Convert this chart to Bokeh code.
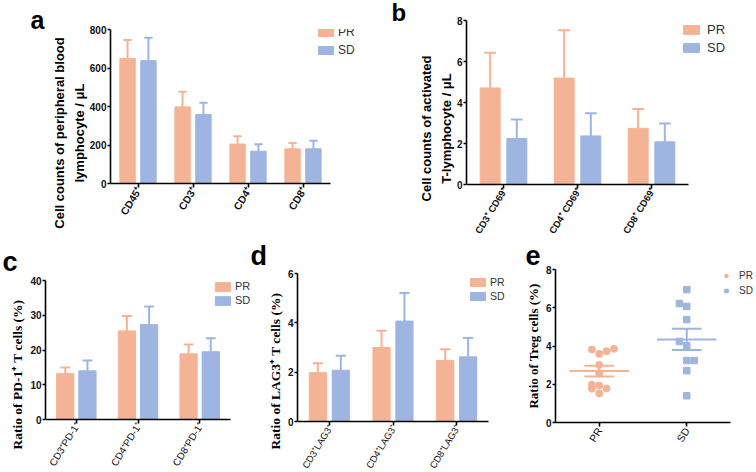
import math
import numpy as np
from bokeh.plotting import figure
from bokeh.layouts import column, row
from bokeh.models import Range1d, FixedTicker, Legend, LegendItem, ColumnDataSource
from bokeh.core.properties import value
from bokeh.embed import file_html
from bokeh.resources import INLINE

PR_COLOR = "#F5B395"
SD_COLOR = "#9DB5E0"
SANS = "Liberation Sans"
SERIF = "Liberation Serif"
LABEL_ANGLE = 1.02  # radians, slant of the category names
E_TICK_ORIENT = 45

# ---- panel a: lymphocyte subsets (cells / uL), mean and SD ----
a_cats = ["CD45⁺", "CD3⁺", "CD4⁺", "CD8⁺"]
a_pr_mean = [650, 398, 205, 180]
a_pr_err = [95, 78, 41, 31]
a_sd_mean = [638, 358, 168, 180]
a_sd_err = [119, 61, 36, 42]
a_yticks = [0, 200, 400, 600, 800]

# ---- panel b: activated T cells (cells / uL) ----
b_cats = ["CD3⁺ CD69⁺", "CD4⁺ CD69⁺", "CD8⁺ CD69⁺"]
b_pr_mean = [4.71, 5.19, 2.74]
b_pr_err = [1.72, 2.34, 0.94]
b_sd_mean = [2.24, 2.37, 2.08]
b_sd_err = [0.93, 1.10, 0.89]
b_yticks = [0, 2, 4, 6, 8]

# ---- panel c: PD-1+ T cells (%) ----
c_cats = ["CD3⁺PD-1⁺", "CD4⁺PD-1⁺", "CD8⁺PD-1⁺"]
c_pr_mean = [13.2, 25.5, 18.9]
c_pr_err = [1.8, 4.3, 2.7]
c_sd_mean = [14.0, 27.3, 19.5]
c_sd_err = [3.0, 5.2, 3.9]
c_yticks = [0, 10, 20, 30, 40]

# ---- panel d: LAG3+ T cells (%) ----
d_cats = ["CD3⁺LAG3⁺", "CD4⁺LAG3⁺", "CD8⁺LAG3⁺"]
d_pr_mean = [1.98, 3.00, 2.47]
d_pr_err = [0.38, 0.68, 0.46]
d_sd_mean = [2.08, 4.07, 2.62]
d_sd_err = [0.59, 1.14, 0.77]
d_yticks = [0, 2, 4, 6]

# ---- panel e: Treg cells (%) per patient; lane = scatter column within group ----
e_groups = ["PR", "SD"]
e_pr_values = [3.82, 3.59, 3.73, 3.85, 3.01, 2.57, 1.98, 1.77, 1.93, 1.78, 1.52]
e_pr_lanes = [-1, 0, 1, 2, 0, 0, -1, -1, 0, 1, 0]
e_sd_values = [6.95, 6.22, 6.07, 5.38, 4.24, 4.01, 3.24, 3.24, 2.71, 1.40]
e_sd_lanes = [0, -1, 0, 0, -1, 0, 0, 1, 0, 0]
e_yticks = [0, 2, 4, 6, 8]


def style_axes(p, yticks, ylabel, ylabel_font, ylabel_size,
               line_height=1.2, label_standoff=2):
    p.xgrid.visible = False
    p.ygrid.visible = False
    p.outline_line_color = None
    p.background_fill_color = "white"
    p.border_fill_color = "white"
    for ax in (p.xaxis[0], p.yaxis[0]):
        ax.axis_line_width = 1.6
        ax.axis_line_color = "black"
        ax.major_tick_line_width = 1.6
        ax.major_tick_line_color = "black"
        ax.major_tick_in = 0
        ax.major_tick_out = 4
        ax.minor_tick_line_color = None
        ax.major_label_text_font = SANS
        ax.major_label_text_color = "#111111"
        ax.major_label_standoff = 2
    ya = p.yaxis[0]
    ya.major_tick_out = 3
    ya.major_label_standoff = 1
    ya.ticker = FixedTicker(ticks=yticks)
    ya.major_label_text_font_size = "10px"
    ya.major_label_text_font_style = "bold"
    ya.axis_label = ylabel
    ya.axis_label_text_font = ylabel_font
    ya.axis_label_text_font_size = ylabel_size
    ya.axis_label_text_font_style = "bold"
    ya.axis_label_text_color = "black"
    ya.axis_label_standoff = label_standoff
    ya.axis_label_text_line_height = line_height


def panel_letter(p, letter, offset, standoff, size, valign, line_height=1.0):
    t = p.title
    t.text = letter
    t.align = "left"
    t.vertical_align = valign
    t.offset = offset
    t.standoff = standoff
    t.text_font = SANS
    t.text_font_size = size
    t.text_font_style = "bold"
    t.text_color = "black"
    t.text_line_height = line_height


def bar_panel(cats, pr_m, pr_e, sd_m, sd_e, ymax, width, height, left, top, axis_y,
              axis_px, offset, bar_w, cap_w, label_style, label_size):
    """Grouped bars with upward SD whiskers; the frame runs below y=0 so the
    slanted category names sit inside it under the x axis."""
    n = len(cats)
    unit = axis_px / n
    x_end = n + 0.5 + (width - left - axis_px) / unit
    bb = 4
    frame_bottom = height - bb
    f = (frame_bottom - axis_y) / (frame_bottom - top)
    y_lo = -f * ymax / (1 - f)
    p = figure(x_range=Range1d(0.5, x_end), y_range=Range1d(y_lo, ymax),
               width=width, height=height, output_backend="svg",
               toolbar_location=None, frame_align=False,
               min_border_left=left, min_border_right=0,
               min_border_top=top, min_border_bottom=bb)
    centers = list(range(1, n + 1))
    rends = []
    for means, errs, off, color in ((pr_m, pr_e, -offset, PR_COLOR),
                                    (sd_m, sd_e, offset, SD_COLOR)):
        xs = [c + off for c in centers]
        his = [m + e for m, e in zip(means, errs)]
        src = ColumnDataSource(dict(x=xs, top=means, hi=his,
                                    cl=[x - cap_w / 2 for x in xs],
                                    cr=[x + cap_w / 2 for x in xs]))
        r = p.vbar(x="x", top="top", bottom=0, width=bar_w, source=src,
                   fill_color=color, line_color=color)
        p.segment(x0="x", y0="top", x1="x", y1="hi", source=src,
                  line_color=color, line_width=2)
        p.segment(x0="cl", y0="hi", x1="cr", y1="hi", source=src,
                  line_color=color, line_width=2)
        rends.append(r)
    p.text(x=centers, y=[0] * n, text=cats, angle=LABEL_ANGLE, angle_units="rad",
           text_align="right", text_baseline="middle", x_offset=1, y_offset=4,
           text_font=value(SANS), text_font_size=label_size,
           text_font_style=label_style, text_color="#111111")
    xa = p.xaxis[0]
    xa.fixed_location = 0
    xa.bounds = (0.5, n + 0.5)
    xa.ticker = FixedTicker(ticks=centers)
    xa.major_label_overrides = {c: "" for c in centers}
    xa.major_label_text_font_size = "0px"
    xa.major_label_standoff = 0
    p.yaxis[0].bounds = (0, ymax)
    return p, rends, frame_bottom


def add_legend(p, items, frame_left, frame_bottom, x_px, bottom_px, glyph_w, glyph_h,
               spacing, standoff, size):
    leg = Legend(items=[LegendItem(label=lab, renderers=[r]) for lab, r in items],
                 location=(x_px - frame_left, frame_bottom - bottom_px),
                 orientation="vertical", padding=0, margin=0,
                 spacing=spacing, glyph_width=glyph_w, glyph_height=glyph_h,
                 label_height=glyph_h, label_standoff=standoff,
                 label_text_font=SANS, label_text_font_size=size,
                 label_text_color="#333333", border_line_color=None,
                 background_fill_alpha=0)
    p.add_layout(leg)


# ---- a ----
pa, ra, fa = bar_panel(a_cats, a_pr_mean, a_pr_err, a_sd_mean, a_sd_err, 800,
                       376, 240, 110, 29, 183, 220, 0.19, 0.28, 0.15, "bold", "10.5px")
style_axes(pa, a_yticks, "Cell counts of peripheral blood\nlymphocyte / μL",
           SANS, "13px", line_height=1.3, label_standoff=0)
add_legend(pa, [("PR", ra[0]), ("SD", ra[1])], 110, fa, 316, 57, 19, 10, 4, 3, "12px")
panel_letter(pa, "a", -80, -13, "25px", "top")

# ---- b ----
pb, rb, fb = bar_panel(b_cats, b_pr_mean, b_pr_err, b_sd_mean, b_sd_err, 8,
                       380, 240, 90, 20, 184, 222, 0.18, 0.27, 0.16, "bold", "9.5px")
style_axes(pb, b_yticks, "Cell counts of activated\nT-lymphocyte / μL",
           SANS, "13px", line_height=1.3, label_standoff=0)
add_legend(pb, [("PR", rb[0]), ("SD", rb[1])], 90, fb, 305, 55, 20, 11, 3, 6, "13px")
panel_letter(pb, "b", -75, -13, "24px", "middle")

# ---- c ----
pc, rc, fc = bar_panel(c_cats, c_pr_mean, c_pr_err, c_sd_mean, c_sd_err, 40,
                       250, 232, 45, 40, 179, 185, 0.18, 0.28, 0.16, "normal", "10px")
style_axes(pc, c_yticks, "Ratio of PD-1⁺ T cells (%)", SERIF, "13.5px")
add_legend(pc, [("PR", rc[0]), ("SD", rc[1])], 45, fc, 213, 66, 19, 11, 2, 3, "11px")
panel_letter(pc, "c", -43, 8, "27px", "bottom", line_height=0.75)

# ---- d ----
pd, rd, fd = bar_panel(d_cats, d_pr_mean, d_pr_err, d_sd_mean, d_sd_err, 6,
                       256, 232, 47, 33, 181, 191, 0.18, 0.27, 0.16, "normal", "9.5px")
style_axes(pd, d_yticks, "Ratio of LAG3⁺ T cells (%)", SERIF, "13.5px")
add_legend(pd, [("PR", rd[0]), ("SD", rd[1])], 47, fd, 218, 62, 19, 10, 2, 3, "10.5px")
panel_letter(pd, "d", -47, 1, "27px", "top", line_height=0.9)

# ---- e ----
e_left, e_axis_px, e_width, e_height, e_bottom = 49, 175, 250, 232, 50
e_unit = e_axis_px / 2
pe = figure(x_range=Range1d(0.5, 2.5 + (e_width - e_left - e_axis_px) / e_unit),
            y_range=Range1d(0, 8), width=e_width, height=e_height,
            output_backend="svg", toolbar_location=None, frame_align=False,
            min_border_left=e_left, min_border_right=0, min_border_top=29,
            min_border_bottom=e_bottom)
lane_step = 0.084
mean_half = 0.34
cap_half = 0.17
e_rends = []
for gi, (vals, lanes, color, marker, msize) in enumerate(
        ((e_pr_values, e_pr_lanes, PR_COLOR, "circle", 7),
         (e_sd_values, e_sd_lanes, SD_COLOR, "square", 6.5)), start=1):
    xs = [gi + lane * lane_step for lane in lanes]
    r = pe.scatter(xs, vals, marker=marker, size=msize, fill_color=color,
                   line_color=color)
    e_rends.append(r)
    arr = np.array(vals)
    m = arr.mean()
    sem = arr.std(ddof=1) / math.sqrt(len(arr))
    pe.segment(x0=[gi - mean_half], y0=[m], x1=[gi + mean_half], y1=[m],
               line_color=color, line_width=2)
    pe.segment(x0=[gi], y0=[m - sem], x1=[gi], y1=[m + sem],
               line_color=color, line_width=2)
    pe.segment(x0=[gi - cap_half, gi - cap_half], y0=[m - sem, m + sem],
               x1=[gi + cap_half, gi + cap_half], y1=[m - sem, m + sem],
               line_color=color, line_width=2)
style_axes(pe, e_yticks, "Ratio of Treg cells (%)", SERIF, "13px")
ex = pe.xaxis[0]
ex.bounds = (0.5, 2.5)
ex.ticker = FixedTicker(ticks=[1, 2])
ex.major_label_overrides = {1: e_groups[0], 2: e_groups[1]}
ex.major_label_orientation = E_TICK_ORIENT
ex.major_label_text_font_size = "10.5px"
ex.major_label_text_font_style = "normal"
add_legend(pe, [("PR", e_rends[0]), ("SD", e_rends[1])], e_left, e_height - e_bottom,
           215, 56, 10, 9, 4, 8, "10px")
panel_letter(pe, "e", -30, 5, "27px", "top", line_height=0.61)

layout = column(row(pa, pb), row(pc, pd, pe))
open("out.html", "w").write(file_html(layout, INLINE))
